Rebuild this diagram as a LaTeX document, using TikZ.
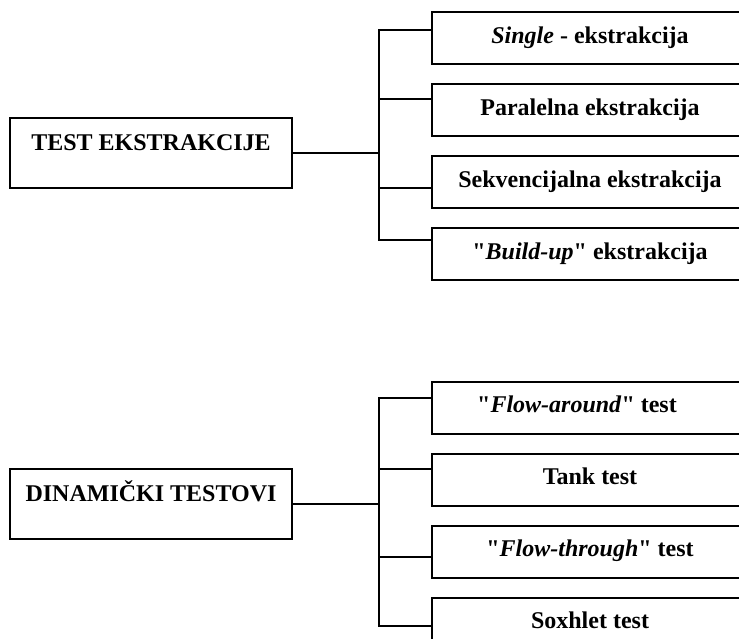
\documentclass[tikz,border=0pt]{standalone}
\usepackage{fontspec}
\setmainfont{Liberation Serif}[Ligatures=TeXOff]
\usepackage{tikz}
\usetikzlibrary{positioning}

\begin{document}
\begin{tikzpicture}
    [x=0.5pt, y=-0.5pt, line width=1pt, node distance=9pt,
     every node/.style={font=\fontsize{12}{14}\selectfont\bfseries, inner sep=0pt},
     mainbox/.style={draw, minimum width=141pt, minimum height=35pt, text height=8pt, text depth=10pt},
     subbox/.style={draw, minimum width=158pt, minimum height=26pt, text height=8pt, text depth=3pt}]
    \useasboundingbox (0,0) rectangle (739,638);

    % test ekstrakcije
    \node[mainbox] (test) at (151,152.5) {TEST EKSTRAKCIJE};

    \node[subbox] (single) at (590,38) {\textit{Single} - ekstrakcija};
    \node[subbox, below=of single] (paral) {Paralelna ekstrakcija};
    \node[subbox, below=of paral] (sekv) {Sekvencijalna ekstrakcija};
    \node[subbox, below=of sekv] (build) {"\textit{Build-up}" ekstrakcija};

    \coordinate (t1) at (379,30);
    \coordinate (t2) at (379,99);
    \coordinate (t3) at (379,188);
    \coordinate (t4) at (379,240);
    \draw (test.east) -- (test.east -| t1);
    \draw (t1 -| single.west) -- (t1) -- (t4) -- (t4 -| build.west);
    \draw (t2) -- (t2 -| paral.west);
    \draw (t3) -- (t3 -| sekv.west);

    % dinamicki testovi
    \node[mainbox] (dinam) at (151,503.5) {DINAMIČKI TESTOVI};

    \node[subbox] (around) at (590,407.5) {"\textit{Flow-around}" test\hspace*{13pt}};
    \node[subbox, below=of around] (tank) {Tank test};
    \node[subbox, below=of tank] (through) {"\textit{Flow-through}" test};
    \node[subbox, below=of through] (soxhlet) {Soxhlet test};

    \coordinate (d1) at (379,398);
    \coordinate (d2) at (379,468.5);
    \coordinate (d3) at (379,557);
    \coordinate (d4) at (379,626);
    \draw (dinam.east) -- (dinam.east -| d1);
    \draw (d1 -| around.west) -- (d1) -- (d4) -- (d4 -| soxhlet.west);
    \draw (d2) -- (d2 -| tank.west);
    \draw (d3) -- (d3 -| through.west);
\end{tikzpicture}
\end{document}
